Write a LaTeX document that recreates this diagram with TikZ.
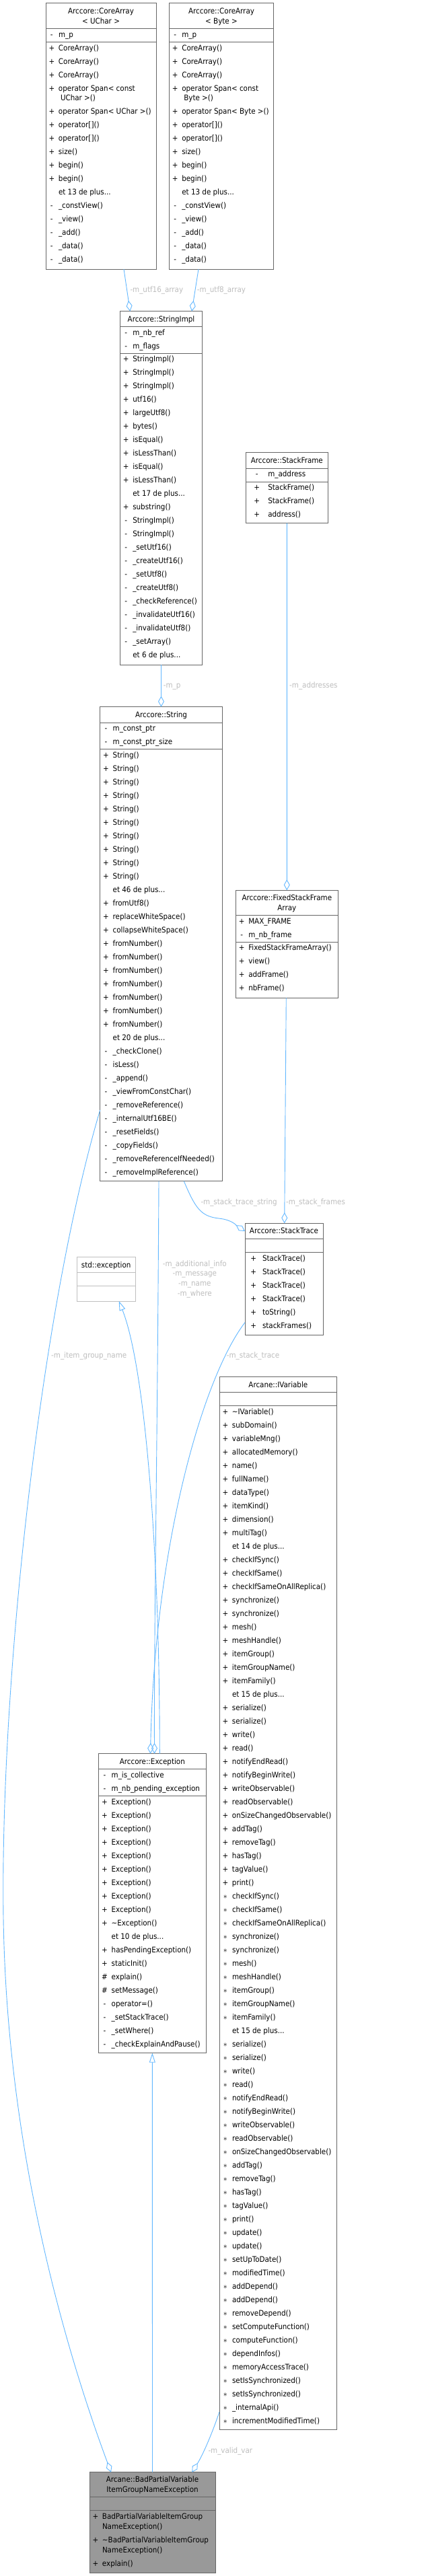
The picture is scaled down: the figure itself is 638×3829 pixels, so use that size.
\documentclass[tikz,border=0pt]{standalone}
\usepackage{fontspec}
\setmainfont{DejaVu Sans Condensed}
\usetikzlibrary{arrows.meta}
\definecolor{edgeblue}{RGB}{99,184,255}
\definecolor{lblgray}{RGB}{190,190,190}
\definecolor{boxgray}{RGB}{102,102,102}
\definecolor{extgray}{RGB}{191,191,191}
\definecolor{fillgray}{RGB}{153,153,153}
\newlength\pfw
\setlength\pfw{20.3pt}
\newcommand\pf[1]{\makebox[\pfw][c]{#1}}
\newcommand\st{$\ast$}
\newcommand\mem[1]{\begin{tabular}{@{}l@{}}#1\end{tabular}}
\tikzset{
  box/.style={draw=boxgray, fill=white, line width=1pt, inner sep=0pt, outer sep=0pt, anchor=north west},
  extbox/.style={box, draw=extgray},
  curbox/.style={box, fill=fillgray},
  sepline/.style={draw=boxgray, line width=1pt},
  extsep/.style={draw=extgray, line width=1pt},
  ttl/.style={anchor=base, inner sep=0pt, font=\fontsize{11.5}{15}\selectfont},
  memb/.style={anchor=north west, inner sep=0pt, outer sep=0pt, font=\fontsize{11.5}{20}\selectfont},
  lbl/.style={anchor=base west, inner sep=0pt, text=lblgray, font=\fontsize{11.5}{15}\selectfont},
  lblc/.style={lbl, anchor=base},
  agg/.style={draw=edgeblue, line width=0.9pt, -{Diamond[open,length=16pt,width=9pt]}},
  inh/.style={draw=edgeblue, line width=0.9pt, -{Triangle[open,length=14pt,width=9pt]}}
}
\begin{document}
\begin{tikzpicture}[x=1pt,y=-1pt]
\fill[white] (0,0) rectangle (638,3829);
\useasboundingbox (0,0) rectangle (638,3829);

% ---------- CoreArray<UChar>
\node[box, minimum width=164pt, minimum height=395.3pt] (caU) at (68,4.7) {};
\draw[sepline] (caU.west |- 0,42.7) -- (caU.east |- 0,42.7);
\draw[sepline] (caU.west |- 0,62.7) -- (caU.east |- 0,62.7);
\node[ttl] (caUt1) at (caU.north |- 0,20.5) {Arccore::CoreArray};
\node[ttl] (caUt2) at (caU.north |- 0,35.5) {< UChar >};
\node[memb] (caUa) at (66.7,41.5) {\mem{\pf{-}m\_p}};
\node[memb] (caUm) at (66.7,61.5) {\mem{%
\pf{+}CoreArray()\\
\pf{+}CoreArray()\\
\pf{+}CoreArray()\\
\pf{+}operator Span< const\\[-5.7pt]
\pf{}\hspace{3pt}UChar >()\\
\pf{+}operator Span< UChar >()\\
\pf{+}operator[]()\\
\pf{+}operator[]()\\
\pf{+}size()\\
\pf{+}begin()\\
\pf{+}begin()\\
\pf{}et 13 de plus...\\
\pf{-}\_constView()\\
\pf{-}\_view()\\
\pf{-}\_add()\\
\pf{-}\_data()\\
\pf{-}\_data()}};

% ---------- CoreArray<Byte>
\node[box, minimum width=155.4pt, minimum height=395.3pt] (caB) at (251.3,4.7) {};
\draw[sepline] (caB.west |- 0,42.7) -- (caB.east |- 0,42.7);
\draw[sepline] (caB.west |- 0,62.7) -- (caB.east |- 0,62.7);
\node[ttl] (caBt1) at (caB.north |- 0,20.5) {Arccore::CoreArray};
\node[ttl] (caBt2) at (caB.north |- 0,35.5) {< Byte >};
\node[memb] (caBa) at (250,41.5) {\mem{\pf{-}m\_p}};
\node[memb] (caBm) at (250,61.5) {\mem{%
\pf{+}CoreArray()\\
\pf{+}CoreArray()\\
\pf{+}CoreArray()\\
\pf{+}operator Span< const\\[-5.7pt]
\pf{}\hspace{3pt}Byte >()\\
\pf{+}operator Span< Byte >()\\
\pf{+}operator[]()\\
\pf{+}operator[]()\\
\pf{+}size()\\
\pf{+}begin()\\
\pf{+}begin()\\
\pf{}et 13 de plus...\\
\pf{-}\_constView()\\
\pf{-}\_view()\\
\pf{-}\_add()\\
\pf{-}\_data()\\
\pf{-}\_data()}};

% ---------- StringImpl
\node[box, minimum width=122.4pt, minimum height=525.6pt] (simpl) at (178.3,462.7) {};
\draw[sepline] (simpl.west |- 0,485.3) -- (simpl.east |- 0,485.3);
\draw[sepline] (simpl.west |- 0,525) -- (simpl.east |- 0,525);
\node[ttl] (simplt) at (simpl.north |- 0,478.1) {Arccore::StringImpl};
\node[memb] (simpla) at (177,484.1) {\mem{\pf{-}m\_nb\_ref\\ \pf{-}m\_flags}};
\node[memb] (simplm) at (177,523.8) {\mem{%
\pf{+}StringImpl()\\
\pf{+}StringImpl()\\
\pf{+}StringImpl()\\
\pf{+}utf16()\\
\pf{+}largeUtf8()\\
\pf{+}bytes()\\
\pf{+}isEqual()\\
\pf{+}isLessThan()\\
\pf{+}isEqual()\\
\pf{+}isLessThan()\\
\pf{}et 17 de plus...\\
\pf{+}substring()\\
\pf{-}StringImpl()\\
\pf{-}StringImpl()\\
\pf{-}\_setUtf16()\\
\pf{-}\_createUtf16()\\
\pf{-}\_setUtf8()\\
\pf{-}\_createUtf8()\\
\pf{-}\_checkReference()\\
\pf{-}\_invalidateUtf16()\\
\pf{-}\_invalidateUtf8()\\
\pf{-}\_setArray()\\
\pf{}et 6 de plus...}};

% ---------- StackFrame
\node[box, minimum width=121.3pt, minimum height=105pt] (sframe) at (365.7,672.7) {};
\draw[sepline] (sframe.west |- 0,696) -- (sframe.east |- 0,696);
\draw[sepline] (sframe.west |- 0,716) -- (sframe.east |- 0,716);
\node[ttl] (sframet) at (sframe.north |- 0,688.1) {Arccore::StackFrame};
\node[memb] (sframea) at (365.1,694.8) {\setlength\pfw{33.2pt}\mem{\pf{-}m\_address}};
\node[memb] (sframem) at (365.1,714.8) {\setlength\pfw{33.2pt}\mem{%
\pf{+}StackFrame()\\
\pf{+}StackFrame()\\
\pf{+}address()}};

% ---------- String
\node[box, minimum width=181.6pt, minimum height=705pt] (str) at (148.7,1050.7) {};
\draw[sepline] (str.west |- 0,1074) -- (str.east |- 0,1074);
\draw[sepline] (str.west |- 0,1113.3) -- (str.east |- 0,1113.3);
\node[ttl] (strt) at (str.north |- 0,1066.5) {Arccore::String};
\node[memb] (stra) at (147.4,1072.8) {\mem{\pf{-}m\_const\_ptr\\ \pf{-}m\_const\_ptr\_size}};
\node[memb] (strm) at (147.4,1112.1) {\mem{%
\pf{+}String()\\
\pf{+}String()\\
\pf{+}String()\\
\pf{+}String()\\
\pf{+}String()\\
\pf{+}String()\\
\pf{+}String()\\
\pf{+}String()\\
\pf{+}String()\\
\pf{+}String()\\
\pf{}et 46 de plus...\\
\pf{+}fromUtf8()\\
\pf{+}replaceWhiteSpace()\\
\pf{+}collapseWhiteSpace()\\
\pf{+}fromNumber()\\
\pf{+}fromNumber()\\
\pf{+}fromNumber()\\
\pf{+}fromNumber()\\
\pf{+}fromNumber()\\
\pf{+}fromNumber()\\
\pf{+}fromNumber()\\
\pf{}et 20 de plus...\\
\pf{-}\_checkClone()\\
\pf{-}isLess()\\
\pf{-}\_append()\\
\pf{-}\_viewFromConstChar()\\
\pf{-}\_removeReference()\\
\pf{-}\_internalUtf16BE()\\
\pf{-}\_resetFields()\\
\pf{-}\_copyFields()\\
\pf{-}\_removeReferenceIfNeeded()\\
\pf{-}\_removeImplReference()}};

% ---------- FixedStackFrameArray
\node[box, minimum width=152pt, minimum height=160pt] (fsfa) at (350.3,1323.3) {};
\draw[sepline] (fsfa.west |- 0,1360.7) -- (fsfa.east |- 0,1360.7);
\draw[sepline] (fsfa.west |- 0,1400) -- (fsfa.east |- 0,1400);
\node[ttl] (fsfat1) at (fsfa.north |- 0,1338.1) {Arccore::FixedStackFrame};
\node[ttl] (fsfat2) at (fsfa.north |- 0,1353.1) {Array};
\node[memb] (fsfaa) at (349,1359.5) {\mem{\pf{+}MAX\_FRAME\\ \pf{-}m\_nb\_frame}};
\node[memb] (fsfam) at (349,1398.8) {\mem{%
\pf{+}FixedStackFrameArray()\\
\pf{+}view()\\
\pf{+}addFrame()\\
\pf{+}nbFrame()}};

% ---------- StackTrace
\node[box, minimum width=116pt, minimum height=165.7pt] (strace) at (364,1818.3) {};
\draw[sepline] (strace.west |- 0,1841.3) -- (strace.east |- 0,1841.3);
\draw[sepline] (strace.west |- 0,1861.3) -- (strace.east |- 0,1861.3);
\node[ttl] (stracet) at (strace.north |- 0,1833.8) {Arccore::StackTrace};
\node[memb] (stracem) at (363.4,1860.1) {\setlength\pfw{26.6pt}\mem{%
\pf{+}StackTrace()\\
\pf{+}StackTrace()\\
\pf{+}StackTrace()\\
\pf{+}StackTrace()\\
\pf{+}toString()\\
\pf{+}stackFrames()}};

% ---------- std::exception
\node[extbox, minimum width=87.3pt, minimum height=65.3pt] (stdexc) at (114,1868.7) {};
\draw[extsep] (stdexc.west |- 0,1891.7) -- (stdexc.east |- 0,1891.7);
\draw[extsep] (stdexc.west |- 0,1911.7) -- (stdexc.east |- 0,1911.7);
\node[ttl] (stdexct) at (stdexc.north |- 0,1884.5) {std::exception};

% ---------- IVariable
\node[box, minimum width=174.7pt, minimum height=1565pt] (ivar) at (326,2046.7) {};
\draw[sepline] (ivar.west |- 0,2069.3) -- (ivar.east |- 0,2069.3);
\draw[sepline] (ivar.west |- 0,2089.3) -- (ivar.east |- 0,2089.3);
\node[ttl] (ivart) at (ivar.north |- 0,2062.1) {Arcane::IVariable};
\node[memb] (ivarm) at (324.7,2088.1) {\mem{%
\pf{+}\textasciitilde{}IVariable()\\
\pf{+}subDomain()\\
\pf{+}variableMng()\\
\pf{+}allocatedMemory()\\
\pf{+}name()\\
\pf{+}fullName()\\
\pf{+}dataType()\\
\pf{+}itemKind()\\
\pf{+}dimension()\\
\pf{+}multiTag()\\
\pf{}et 14 de plus...\\
\pf{+}checkIfSync()\\
\pf{+}checkIfSame()\\
\pf{+}checkIfSameOnAllReplica()\\
\pf{+}synchronize()\\
\pf{+}synchronize()\\
\pf{+}mesh()\\
\pf{+}meshHandle()\\
\pf{+}itemGroup()\\
\pf{+}itemGroupName()\\
\pf{+}itemFamily()\\
\pf{}et 15 de plus...\\
\pf{+}serialize()\\
\pf{+}serialize()\\
\pf{+}write()\\
\pf{+}read()\\
\pf{+}notifyEndRead()\\
\pf{+}notifyBeginWrite()\\
\pf{+}writeObservable()\\
\pf{+}readObservable()\\
\pf{+}onSizeChangedObservable()\\
\pf{+}addTag()\\
\pf{+}removeTag()\\
\pf{+}hasTag()\\
\pf{+}tagValue()\\
\pf{+}print()\\
\pf{\st}checkIfSync()\\
\pf{\st}checkIfSame()\\
\pf{\st}checkIfSameOnAllReplica()\\
\pf{\st}synchronize()\\
\pf{\st}synchronize()\\
\pf{\st}mesh()\\
\pf{\st}meshHandle()\\
\pf{\st}itemGroup()\\
\pf{\st}itemGroupName()\\
\pf{\st}itemFamily()\\
\pf{}et 15 de plus...\\
\pf{\st}serialize()\\
\pf{\st}serialize()\\
\pf{\st}write()\\
\pf{\st}read()\\
\pf{\st}notifyEndRead()\\
\pf{\st}notifyBeginWrite()\\
\pf{\st}writeObservable()\\
\pf{\st}readObservable()\\
\pf{\st}onSizeChangedObservable()\\
\pf{\st}addTag()\\
\pf{\st}removeTag()\\
\pf{\st}hasTag()\\
\pf{\st}tagValue()\\
\pf{\st}print()\\
\pf{\st}update()\\
\pf{\st}update()\\
\pf{\st}setUpToDate()\\
\pf{\st}modifiedTime()\\
\pf{\st}addDepend()\\
\pf{\st}addDepend()\\
\pf{\st}removeDepend()\\
\pf{\st}setComputeFunction()\\
\pf{\st}computeFunction()\\
\pf{\st}dependInfos()\\
\pf{\st}memoryAccessTrace()\\
\pf{\st}setIsSynchronized()\\
\pf{\st}setIsSynchronized()\\
\pf{\st}\_internalApi()\\
\pf{\st}incrementModifiedTime()}};

% ---------- Exception
\node[box, minimum width=159.3pt, minimum height=445pt] (exc) at (146.7,2606.7) {};
\draw[sepline] (exc.west |- 0,2629.3) -- (exc.east |- 0,2629.3);
\draw[sepline] (exc.west |- 0,2669.3) -- (exc.east |- 0,2669.3);
\node[ttl] (exct) at (exc.north |- 0,2622.1) {Arccore::Exception};
\node[memb] (exca) at (145.4,2628.1) {\mem{\pf{-}m\_is\_collective\\ \pf{-}m\_nb\_pending\_exception}};
\node[memb] (excm) at (145.4,2668.1) {\mem{%
\pf{+}Exception()\\
\pf{+}Exception()\\
\pf{+}Exception()\\
\pf{+}Exception()\\
\pf{+}Exception()\\
\pf{+}Exception()\\
\pf{+}Exception()\\
\pf{+}Exception()\\
\pf{+}Exception()\\
\pf{+}\textasciitilde{}Exception()\\
\pf{}et 10 de plus...\\
\pf{+}hasPendingException()\\
\pf{+}staticInit()\\
\pf{\#}explain()\\
\pf{\#}setMessage()\\
\pf{-}operator=()\\
\pf{-}\_setStackTrace()\\
\pf{-}\_setWhere()\\
\pf{-}\_checkExplainAndPause()}};

% ---------- BadPartialVariableItemGroupNameException
\node[curbox, minimum width=187pt, minimum height=149.3pt] (bad) at (133,3674.7) {};
\draw[sepline] (bad.west |- 0,3711.7) -- (bad.east |- 0,3711.7);
\draw[sepline] (bad.west |- 0,3731.7) -- (bad.east |- 0,3731.7);
\node[ttl] (badt1) at (bad.north |- 0,3689.8) {Arcane::BadPartialVariable};
\node[ttl] (badt2) at (bad.north |- 0,3704.5) {ItemGroupNameException};
\node[memb] (badm) at (131.7,3730.5) {\mem{%
\pf{+}BadPartialVariableItemGroup\\[-5pt]
\pf{}NameException()\\
\pf{+}\textasciitilde{}BadPartialVariableItemGroup\\[-5pt]
\pf{}NameException()\\
\pf{+}explain()}};

% ---------- connectors
\draw[agg] ([xshift=116pt]caU.south west) -- ([xshift=15pt]simpl.north west);
\node[lbl] (l1) at (193.3,434.5) {-m\_utf16\_array};
\draw[agg] ([xshift=43.7pt]caB.south west) -- ([xshift=106.7pt]simpl.north west);
\node[lbl] (l2) at (292.7,434.5) {-m\_utf8\_array};
\draw[agg] (simpl.south) -- (str.north);
\node[lbl] (l3) at (242.7,1022.1) {-m\_p};
\draw[agg] (sframe.south) -- (fsfa.north);
\node[lbl] (l4) at (430,1022.1) {-m\_addresses};
\draw[agg] ([xshift=-1pt]fsfa.south) -- ([xshift=0.7pt]strace.north);
\node[lbl] (l5) at (425,1790.5) {-m\_stack\_frames};
\draw[agg] ([xshift=33.8pt]str.south) .. controls (290,1795) and (298,1808) .. (325,1811)
  .. controls (345,1813) and (352,1822) .. ([yshift=-11.7pt]strace.north west);
\node[lbl] (l6) at (298.3,1790.5) {-m\_stack\_trace\_string};
\draw[agg] ([xshift=-3.5pt]str.south) .. controls (234,2150) and (229,2400) .. ([xshift=3.15pt]exc.north);
\node[lblc] (l7a) at (289.3,1882.1) {-m\_additional\_info};
\node[lblc] (l7b) at (289.3,1896.8) {-m\_message};
\node[lblc] (l7c) at (289.3,1911.5) {-m\_name};
\node[lblc] (l7d) at (289.3,1926.1) {-m\_where};
\draw[agg] ([yshift=18.3pt]strace.south west) .. controls (300,2050) and (230,2300) .. ([xshift=-2.85pt]exc.north);
\node[lbl] (l8) at (336.7,2018.1) {-m\_stack\_trace};
\draw[inh] ([xshift=10.95pt]exc.north) .. controls (237.3,2300) and (215,2030) .. ([xshift=19.05pt]stdexc.south);
\draw[agg] ([yshift=105.7pt]str.south west) .. controls (60,1950) and (0,2500) .. (5,2850)
  .. controls (10,3200) and (100,3500) .. ([xshift=-61.5pt]bad.north);
\node[lbl] (l9) at (76,2018.1) {-m\_item\_group\_name};
\draw[agg] ([yshift=26.7pt]ivar.south west) .. controls (316,3615) and (302,3648) .. ([xshift=58.8pt]bad.north);
\node[lbl] (l10) at (309.3,3646.1) {-m\_valid\_var};
\draw[inh] (bad.north) -- (exc.south);
\end{tikzpicture}
\end{document}
